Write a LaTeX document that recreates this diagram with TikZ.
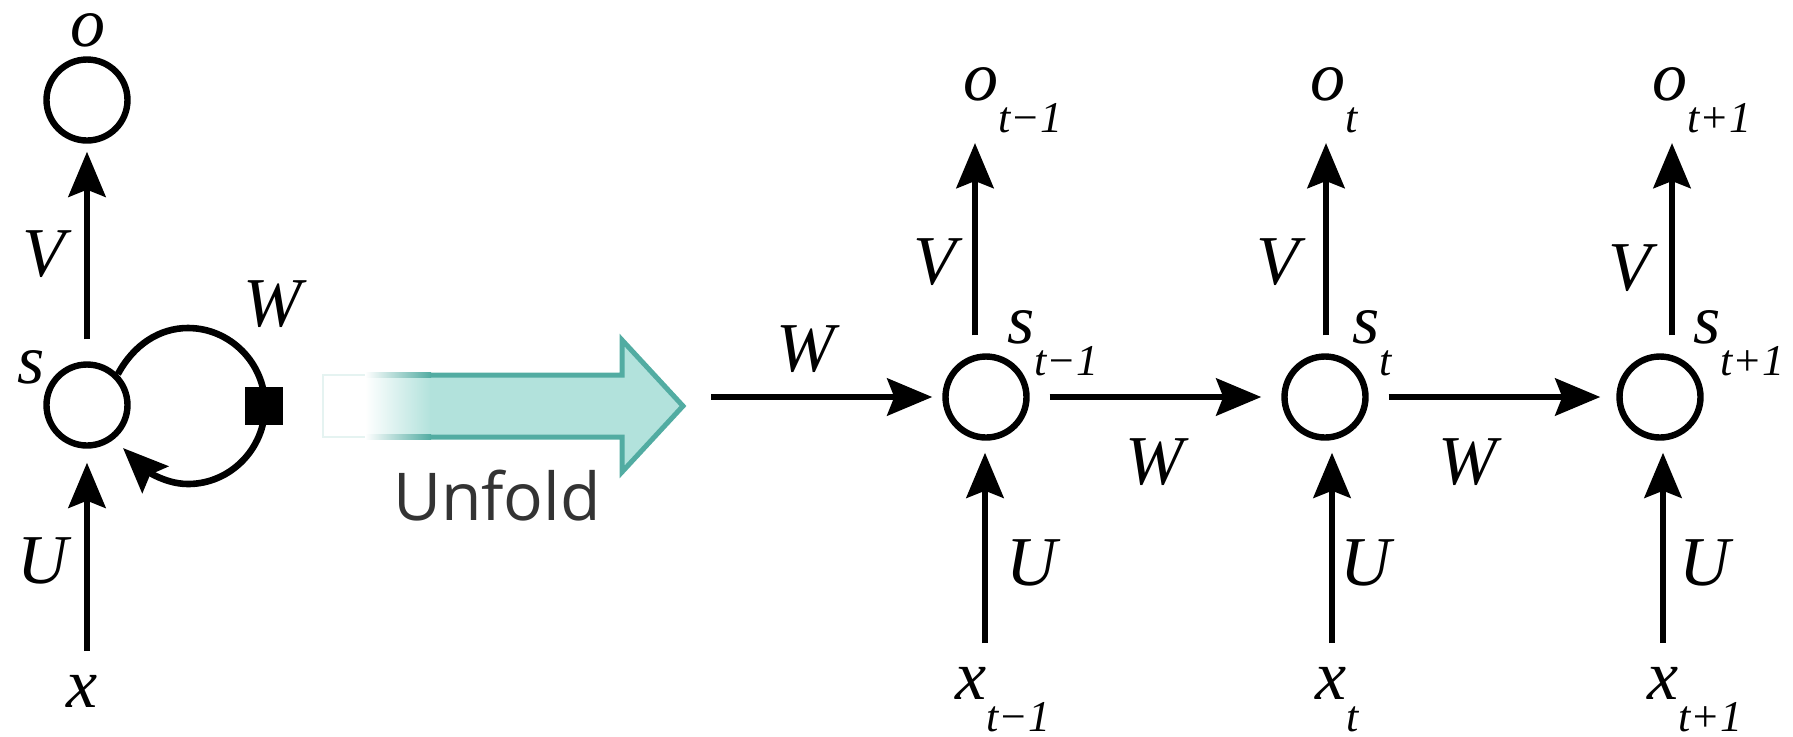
\documentclass[tikz,border=0pt]{standalone}
\usepackage{fontspec}
\setmainfont{Liberation Serif}
\newfontfamily\unfoldfont{Open Sans}
\usetikzlibrary{arrows.meta}
\definecolor{tealfill}{RGB}{178,226,220}
\definecolor{tealline}{RGB}{82,172,162}
\newcommand{\subl}[2]{#1\raisebox{-16pt}{\fontsize{22}{22}\selectfont #2}}
\begin{document}
\begin{tikzpicture}[x=0.5pt,y=-0.5pt,
  state/.style={circle,draw,line width=3.2pt,minimum size=40.5pt,inner sep=0pt},
  arr/.style={line width=3.3pt,-{Stealth[length=22.5pt,width=18.5pt,inset=3.5pt]}},
  lab/.style={font=\fontsize{35}{35}\selectfont\itshape,inner sep=0pt},
  lbl/.style={lab,anchor=base},
  sublbl/.style={lab,anchor=base west}]
\useasboundingbox (0,0) rectangle (1793,736);

% ---------- folded network ----------
\node[state] (o0) at (87,100) {};
\node[state] (s0) at (87,405) {};
\coordinate (u0) at (87,651);
\coordinate (loopend) at (123,448);
\draw[arr, shorten <=11pt, shorten >=4pt] (s0) -- (o0);
\draw[arr, shorten >=7pt] (u0) -- (s0);
\draw[arr] (s0.45) .. controls (133.8,344.4) and (159.7,328) .. (188,328)
  .. controls (230.5,328) and (265,363.5) .. (265,406)
  .. controls (265,448.5) and (230.5,484) .. (188,484)
  .. controls (161.9,484) and (141.8,466.4) .. (loopend);
\node[fill=black, draw=none, minimum size=19pt, inner sep=0pt] (wsq) at (264,406) {};
\node[lbl] (lo0) at (88,46) {o};
\node[lbl] (lv0) at (44,276) {V};
\node[lbl] (lw0) at (273,326) {W};
\node[lbl] (ls0) at (31,383) {s};
\node[lbl] (lu0) at (43,583) {U};
\node[lbl] (lx0) at (82,707) {x};

% ---------- unfold arrow ----------
\draw[tealline!15, line width=1pt] (365,375) -- (323,375) -- (323,437) -- (365,437);
\shade[left color=white, right color=tealfill] (365,375) rectangle (431,437);
\fill[tealfill] (430,375) -- (622,375) -- (622,340) -- (683,406) -- (622,472) -- (622,437) -- (430,437) -- cycle;
\shade[left color=white, right color=tealline] (365,372.5) rectangle (431,377.5);
\shade[left color=white, right color=tealline] (365,434.5) rectangle (431,439.5);
\draw[tealline, line width=2.5pt, line join=miter] (430,375) -- (622,375) -- (622,340) -- (683,406) -- (622,472) -- (622,437) -- (430,437);
\node[font=\unfoldfont\fontsize{33}{33}\selectfont, anchor=base, text=black!80, inner sep=0pt] (unf) at (497,520) {Unfold};

% ---------- unfolded network ----------
\node[state] (s1) at (986,397) {};
\node[state] (s2) at (1325,397) {};
\node[state] (s3) at (1660,397) {};
\coordinate (win) at (711,397);
\draw[arr, shorten >=5pt] (win) -- (s1);
\draw[arr, shorten <=10pt, shorten >=10pt] (s1) -- (s2);
\draw[arr, shorten <=10pt, shorten >=8pt] (s2) -- (s3);

\coordinate (v1) at (975,143);
\coordinate (v2) at (1326,143);
\coordinate (v3) at (1672,143);
\draw[arr, shorten <=9pt] (v1 |- s1.north) -- (v1);
\draw[arr, shorten <=9pt] (v2 |- s2.north) -- (v2);
\draw[arr, shorten <=9pt] (v3 |- s3.north) -- (v3);

\coordinate (u1) at (985,643);
\coordinate (u2) at (1332,643);
\coordinate (u3) at (1663,643);
\draw[arr, shorten >=6pt] (u1) -- (u1 |- s1.south);
\draw[arr, shorten >=6pt] (u2) -- (u2 |- s2.south);
\draw[arr, shorten >=6pt] (u3) -- (u3 |- s3.south);

\node[sublbl] (lo1) at (963,100) {\subl{o}{t−1}};
\node[sublbl] (lo2) at (1310,100) {\subl{o}{t}};
\node[sublbl] (lo3) at (1652,100) {\subl{o}{t+1}};
\node[sublbl] (ls1) at (1007,343) {\subl{s}{t−1}};
\node[sublbl] (ls2) at (1352,343) {\subl{s}{t}};
\node[sublbl] (ls3) at (1693,343) {\subl{s}{t+1}};
\node[sublbl] (lx1) at (955,699) {\subl{x}{t−1}};
\node[sublbl] (lx2) at (1315,699) {\subl{x}{t}};
\node[sublbl] (lx3) at (1647,699) {\subl{x}{t+1}};
\node[lbl] (lv1) at (935,284) {V};
\node[lbl] (lv2) at (1278,284) {V};
\node[lbl] (lv3) at (1630,290) {V};
\node[lbl] (lu1) at (1032,585) {U};
\node[lbl] (lu2) at (1366,585) {U};
\node[lbl] (lu3) at (1705,585) {U};
\node[lbl] (lw1) at (806,371) {W};
\node[lbl] (lw2) at (1155,484) {W};
\node[lbl] (lw3) at (1468,484) {W};
\end{tikzpicture}
\end{document}
